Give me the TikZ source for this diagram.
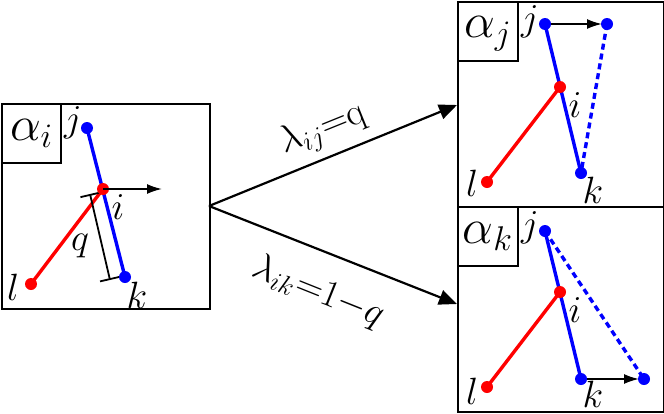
\RequirePackage{fix-cm}
\documentclass[tikz,border=0pt]{standalone}
\usetikzlibrary{arrows.meta}
\begin{document}
\begin{tikzpicture}[x=0.5pt,y=-0.5pt,
  frame/.style={draw, line width=1pt, inner sep=0pt, anchor=north west},
  ptlab/.style={font=\fontsize{19}{21}\selectfont, inner sep=0pt},
  alab/.style={font=\fontsize{24.5}{28}\selectfont, inner sep=0pt},
  dot/.style={circle, fill=#1, inner sep=0pt, minimum size=6pt},
  bl/.style={blue, line width=1.7pt},
  rl/.style={red, line width=1.7pt},
  bdash/.style={blue, line width=1.7pt, dash pattern=on 3pt off 2pt},
  small/.style={line width=0.9pt, -{Latex[length=7.5pt,width=5pt]}},
  big/.style={line width=1.1pt, -{Triangle[length=9pt,width=7.5pt]}},
  elab/.style={font=\fontsize{19}{21}\selectfont, inner sep=0pt}]
\useasboundingbox (0,0) rectangle (664,413);
% boxes
\node[frame, minimum width=104pt, minimum height=102.5pt] (L) at (1,103) {};
\node[frame, minimum width=29.5pt, minimum height=29.5pt] (La) at (1,103) {};
\node[alab] at (La.center) {$\alpha_i$};
\node[frame, minimum width=103pt, minimum height=102.5pt] (T) at (457,1) {};
\node[frame, minimum width=30pt, minimum height=29.5pt] (Ta) at (457,1) {};
\node[alab] at ([yshift=-1pt]Ta.center) {$\alpha_j$};
\node[frame, minimum width=103pt, minimum height=102.5pt] (B) at (457,206) {};
\node[frame, minimum width=30pt, minimum height=29.5pt] (Ba) at (457,206) {};
\node[alab] at (Ba.center) {$\alpha_k$};
% left box content
\coordinate (Lj) at (87,128);
\coordinate (Li) at (103,189);
\coordinate (Lk) at (125,277);
\coordinate (Ll) at (31,284);
\coordinate (Lv) at (162,189);
\coordinate (q1) at (90,194);
\coordinate (q2) at (110,280);
\draw[bl] (Lj) -- (Lk);
\draw[rl] (Ll) -- (Li);
\draw[line width=0.9pt, {Bar[width=10pt]}-{Bar[width=10pt]}] (q1) -- (q2);
\node[dot=blue] (Ljd) at (Lj) {};
\node[dot=blue] (Lkd) at (Lk) {};
\node[dot=red] (Lld) at (Ll) {};
\node[dot=red] (Lid) at (Li) {};
\draw[small] (Li) -- (Lv);
\node[ptlab] (tLj) at (73,123) {$j$};
\node[ptlab] (tLi) at (118,207) {$i$};
\node[ptlab] (tLk) at (137,295) {$k$};
\node[ptlab] (tLl) at (13,287) {$l$};
\node[ptlab] (tLq) at (80,246) {$q$};
% top right content
\coordinate (Tj) at (545,24);
\coordinate (Tn) at (607,24);
\coordinate (Ti) at (560,87);
\coordinate (Tk) at (581,173);
\coordinate (Tl) at (487,182);
\draw[bl] (Tj) -- (Tk);
\draw[rl] (Tl) -- (Ti);
\draw[bdash] (Tn) -- (Tk);
\draw[small, shorten >=2.5pt] (Tj) -- (Tn);
\node[dot=blue] (Tjd) at (Tj) {};
\node[dot=blue] (Tnd) at (Tn) {};
\node[dot=blue] (Tkd) at (Tk) {};
\node[dot=red] (Tld) at (Tl) {};
\node[dot=red] (Tid) at (Ti) {};
\node[ptlab] (tTj) at (530,22) {$j$};
\node[ptlab] (tTi) at (575,105) {$i$};
\node[ptlab] (tTk) at (593,190) {$k$};
\node[ptlab] (tTl) at (472,183) {$l$};
% bottom right content
\coordinate (Bj) at (545,231);
\coordinate (Bn) at (644,379);
\coordinate (Bi) at (560,292);
\coordinate (Bk) at (581,379);
\coordinate (Bl) at (487,387);
\draw[bl] (Bj) -- (Bk);
\draw[rl] (Bl) -- (Bi);
\draw[bdash] (Bj) -- (Bn);
\draw[small, shorten >=2.5pt] (Bk) -- (Bn);
\node[dot=blue] (Bjd) at (Bj) {};
\node[dot=blue] (Bnd) at (Bn) {};
\node[dot=blue] (Bkd) at (Bk) {};
\node[dot=red] (Bld) at (Bl) {};
\node[dot=red] (Bid) at (Bi) {};
\node[ptlab] (tBj) at (530,228) {$j$};
\node[ptlab] (tBi) at (575,310) {$i$};
\node[ptlab] (tBk) at (593,394) {$k$};
\node[ptlab] (tBl) at (472,391) {$l$};
% big arrows
\coordinate (S) at (209,206);
\coordinate (Ej) at (457,105);
\coordinate (Ek) at (457,304);
\draw[big] (S) -- (Ej);
\draw[big] (S) -- (Ek);
\node[elab, rotate=22] (ej) at (323,130) {$\lambda_{ij}{=}\mathrm{q}$};
\node[elab, rotate=-21.8] (ek) at (318,292) {$\lambda_{ik}{=}1{-}q$};
\end{tikzpicture}
\end{document}
